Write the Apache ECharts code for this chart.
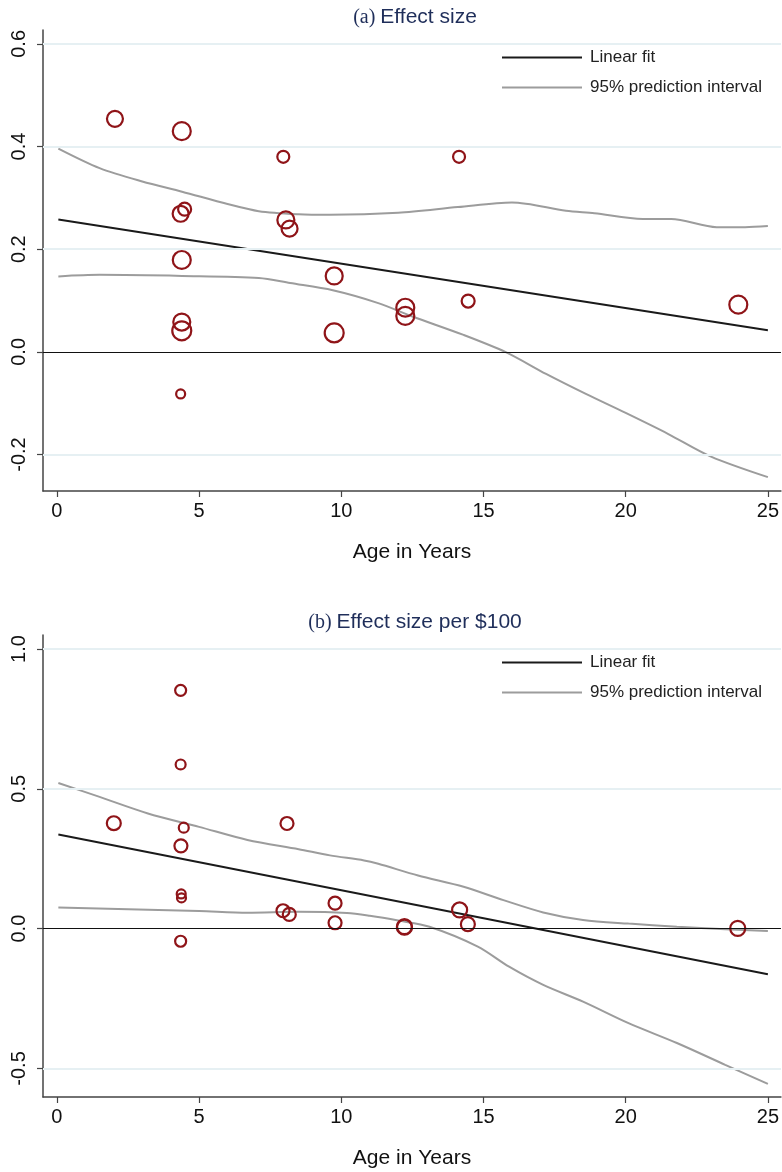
<!DOCTYPE html>
<html>
<head>
<meta charset="utf-8">
<script src="https://cdn.jsdelivr.net/npm/echarts@6/dist/echarts.min.js"></script>
<style>
  html, body { margin: 0; padding: 0; background: #fff; }
  #container { width: 782px; height: 1172px; }
</style>
</head>
<body>
<div id="container"></div>
<script>
// age in years, effect size, precision weight (drives marker size)
const ageA = [2.04, 4.39, 7.96, 14.14, 4.49, 4.35, 8.05, 8.18, 4.39, 9.75, 4.39, 4.39, 9.75, 12.25, 12.25, 14.46, 23.96, 4.35];
const effectA = [0.454, 0.430, 0.380, 0.380, 0.278, 0.269, 0.257, 0.240, 0.179, 0.148, 0.058, 0.041, 0.037, 0.086, 0.070, 0.099, 0.092, -0.082];
const weightA = [72, 90, 42, 42, 49, 72, 81, 72, 90, 81, 81, 100, 100, 90, 90, 49, 90, 25];

const ageB = [4.35, 4.35, 2.0, 4.46, 8.09, 4.36, 4.37, 4.38, 4.35, 7.95, 8.17, 9.78, 9.78, 12.22, 12.22, 14.16, 14.45, 23.94];
const effectB = [0.852, 0.587, 0.377, 0.361, 0.376, 0.296, 0.124, 0.110, -0.045, 0.064, 0.051, 0.091, 0.021, 0.007, 0.005, 0.067, 0.016, 0.001];
const weightB = [36, 30, 56, 30, 49, 49, 25, 25, 36, 49, 49, 49, 49, 64, 64, 64, 56, 64];

const fitA = [[0.05, 0.258], [25, 0.042]];
const upperA = [[0.05, 0.396], [1.5, 0.358], [3.0, 0.332], [4.4, 0.312], [6.0, 0.288], [7.1, 0.274], [8.5, 0.268], [9.6, 0.267],
  [12.0, 0.271], [14.1, 0.282], [16.0, 0.291], [17.9, 0.275], [18.9, 0.270], [20.6, 0.259], [21.6, 0.259], [23.2, 0.243],
  [24.2, 0.243], [25.0, 0.245]];
const lowerA = [[0.05, 0.147], [1.5, 0.150], [4.4, 0.148], [7.1, 0.144], [8.2, 0.134], [9.7, 0.120], [11.3, 0.095],
  [12.5, 0.069], [14.3, 0.033], [15.8, -0.001], [17.2, -0.043], [18.6, -0.082], [20.0, -0.119], [21.5, -0.160],
  [23.0, -0.204], [25.0, -0.244]];

const fitB = [[0.05, 0.337], [25, -0.163]];
const upperB = [[0.05, 0.521], [1.5, 0.471], [3.2, 0.412], [5.0, 0.364], [6.7, 0.317], [8.5, 0.284], [9.6, 0.262],
  [10.8, 0.244], [11.3, 0.232], [12.7, 0.190], [14.3, 0.150], [15.7, 0.102], [17.1, 0.058], [18.5, 0.031],
  [20.1, 0.018], [21.8, 0.007], [23.5, -0.002], [25.0, -0.008]];
const lowerB = [[0.05, 0.076], [5.0, 0.063], [6.7, 0.057], [8.5, 0.060], [10.2, 0.056], [11.0, 0.046], [12.0, 0.029],
  [13.1, 0.007], [14.8, -0.064], [15.9, -0.136], [17.1, -0.201], [18.5, -0.261], [20.1, -0.338], [21.8, -0.409],
  [23.5, -0.487], [25.0, -0.555]];

const xTicks = [0, 5, 10, 15, 20, 25];
const yTicksA = [-0.2, 0, 0.2, 0.4, 0.6];
const yTicksB = [-0.5, 0, 0.5, 1.0];

const titleA = ['(a)', 'Effect size'];
const titleB = ['(b)', 'Effect size per $100'];
const xName = 'Age in Years';
const fitName = 'Linear fit';
const piName = '95% prediction interval';

const sans = '"Liberation Sans", Arial, Helvetica, sans-serif';
const red = '#8f1418';
const navy = '#1f2e5a';

function zip(xs, ys) {
    return xs.map((x, i) => [x, ys[i]]);
}

function xAxisFor(gridIndex) {
    return {
        gridIndex: gridIndex,
        type: 'value',
        min: -0.49,
        max: 25.46,
        name: xName,
        nameLocation: 'middle',
        nameGap: 51,
        nameTextStyle: { fontFamily: sans, fontSize: 21, color: '#111' },
        axisLine: { onZero: false, lineStyle: { color: '#444', width: 1.5 } },
        axisTick: { customValues: xTicks, length: 6, lineStyle: { color: '#444', width: 1.2 } },
        axisLabel: { customValues: xTicks, fontFamily: sans, fontSize: 20, color: '#111', margin: 10 },
        splitLine: { show: false }
    };
}

function yAxisFor(gridIndex, min, max, ticks) {
    return {
        gridIndex: gridIndex,
        type: 'value',
        min: min,
        max: max,
        axisLine: { show: true, onZero: false, lineStyle: { color: '#444', width: 1.5 } },
        axisTick: { show: true, customValues: ticks, length: 6, lineStyle: { color: '#444', width: 1.2 } },
        axisLabel: {
            customValues: ticks, rotate: 90, fontFamily: sans, fontSize: 20, color: '#111', margin: 14,
            formatter: v => v.toFixed(1)
        },
        splitLine: { show: false }
    };
}

function gridLines(ticks) {
    return {
        silent: true,
        symbol: 'none',
        label: { show: false },
        data: ticks.map(t => ({
            yAxis: t,
            lineStyle: t === 0 ? { color: '#111', width: 1, type: 'solid' } : { color: '#e6f0f3', width: 2, type: 'solid' }
        }))
    };
}

function panelSeries(idx, ages, effects, weights, fit, upper, lower, ticks) {
    return [
        {
            type: 'line', xAxisIndex: idx, yAxisIndex: idx, data: [], z: 1,
            markLine: gridLines(ticks)
        },
        {
            name: fitName, type: 'line', xAxisIndex: idx, yAxisIndex: idx, data: fit,
            symbol: 'none', lineStyle: { color: '#1a1a1a', width: 2 }, itemStyle: { color: '#1a1a1a' }, z: 2
        },
        {
            name: piName, type: 'line', xAxisIndex: idx, yAxisIndex: idx, data: upper, smooth: 0.3,
            symbol: 'none', lineStyle: { color: '#9c9c9c', width: 2 }, itemStyle: { color: '#9c9c9c' }, z: 2
        },
        {
            name: piName, type: 'line', xAxisIndex: idx, yAxisIndex: idx, data: lower, smooth: 0.3,
            symbol: 'none', lineStyle: { color: '#9c9c9c', width: 2 }, itemStyle: { color: '#9c9c9c' }, z: 2
        },
        {
            type: 'scatter', xAxisIndex: idx, yAxisIndex: idx,
            data: zip(ages, effects).map((p, i) => ({ value: p, symbolSize: 2 * Math.sqrt(weights[i]) - 1 })),
            symbol: 'circle',
            itemStyle: { color: 'rgba(0,0,0,0)', borderColor: red, borderWidth: 2.2, opacity: 1 },
            z: 3
        }
    ];
}

function titleFor(parts, top) {
    return {
        text: '{s|' + parts[0] + '} {t|' + parts[1] + '}',
        left: 410,
        textAlign: 'center',
        top: top,
        textStyle: {
            fontWeight: 'normal',
            rich: {
                s: { fontFamily: '"Liberation Serif", "Times New Roman", serif', fontSize: 20, fontWeight: 'normal', color: navy },
                t: { fontFamily: sans, fontSize: 21, fontWeight: 'normal', color: navy }
            }
        }
    };
}

function legendFor(top) {
    return {
        data: [fitName, piName],
        orient: 'vertical',
        left: 497,
        top: top,
        icon: 'rect',
        itemWidth: 80,
        itemHeight: 2,
        itemGap: 13,
        textStyle: { fontFamily: sans, fontSize: 17, color: '#222', padding: [0, 0, 0, 3] }
    };
}

let option = {
    backgroundColor: '#fff',
    animation: false,
    title: [titleFor(titleA, 2), titleFor(titleB, 607)],
    legend: [legendFor(44), legendFor(649)],
    grid: [
        { left: 43, right: 0, top: 30, height: 461 },
        { left: 43, right: 0, top: 635, height: 462 }
    ],
    xAxis: [xAxisFor(0), xAxisFor(1)],
    yAxis: [yAxisFor(0, -0.271, 0.627, yTicksA), yAxisFor(1, -0.602, 1.05, yTicksB)],
    series: [
        ...panelSeries(0, ageA, effectA, weightA, fitA, upperA, lowerA, yTicksA),
        ...panelSeries(1, ageB, effectB, weightB, fitB, upperB, lowerB, yTicksB)
    ]
};

let chrt = echarts.init(document.getElementById('container'));
chrt.setOption(option);
</script>
</body>
</html>
